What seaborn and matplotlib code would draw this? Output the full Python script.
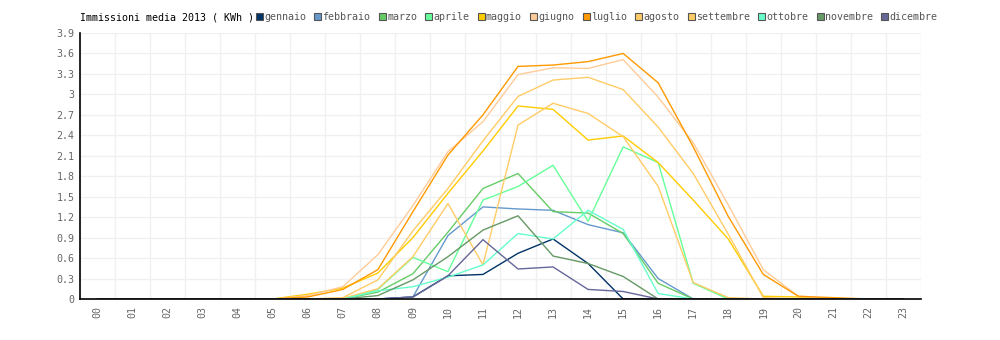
import matplotlib
matplotlib.use("Agg")
import matplotlib.pyplot as plt
from matplotlib.patches import Patch
import numpy as np
import pandas as pd
import seaborn as sns

# Average hourly energy fed in per month, 2013 (kWh)
hours = [f"{h:02d}" for h in range(24)]
months = ["gennaio", "febbraio", "marzo", "aprile", "maggio", "giugno",
          "luglio", "agosto", "settembre", "ottobre", "novembre", "dicembre"]
colors = ["#003366", "#6699cc", "#66cc66", "#66ff99", "#ffcc00", "#ffcc99",
          "#ff9900", "#ffcc66", "#ffcc66", "#66ffcc", "#669966", "#666699"]

gennaio   = [0, 0, 0, 0, 0, 0, 0, 0, 0, 0.03, 0.34, 0.36, 0.67, 0.88, 0.52, 0, 0, 0, 0, 0, 0, 0, 0, 0]
febbraio  = [0, 0, 0, 0, 0, 0, 0, 0, 0, 0.03, 0.93, 1.35, 1.32, 1.30, 1.09, 0.97, 0.30, 0, 0, 0, 0, 0, 0, 0]
marzo     = [0, 0, 0, 0, 0, 0, 0, 0, 0.10, 0.37, 0.98, 1.62, 1.84, 1.28, 1.26, 0.96, 0.23, 0, 0, 0, 0, 0, 0, 0]
aprile    = [0, 0, 0, 0, 0, 0, 0, 0, 0.14, 0.61, 0.40, 1.45, 1.65, 1.96, 1.14, 2.23, 2.00, 0.23, 0, 0, 0, 0, 0, 0]
maggio    = [0, 0, 0, 0, 0, 0, 0.07, 0.16, 0.38, 0.90, 1.55, 2.17, 2.83, 2.78, 2.33, 2.39, 2.00, 1.45, 0.88, 0.04, 0.03, 0, 0, 0]
giugno    = [0, 0, 0, 0, 0, 0, 0.05, 0.18, 0.65, 1.37, 2.16, 2.60, 3.29, 3.39, 3.38, 3.51, 2.96, 2.29, 1.38, 0.43, 0.04, 0, 0, 0]
luglio    = [0, 0, 0, 0, 0, 0, 0.03, 0.14, 0.43, 1.28, 2.11, 2.70, 3.41, 3.43, 3.48, 3.60, 3.17, 2.23, 1.21, 0.36, 0.04, 0.02, 0, 0]
agosto    = [0, 0, 0, 0, 0, 0, 0, 0.02, 0.28, 1.00, 1.62, 2.32, 2.97, 3.21, 3.25, 3.07, 2.52, 1.84, 0.95, 0.02, 0, 0, 0, 0]
settembre = [0, 0, 0, 0, 0, 0, 0, 0.01, 0.15, 0.62, 1.40, 0.50, 2.55, 2.87, 2.72, 2.38, 1.65, 0.24, 0.02, 0, 0, 0, 0, 0]
ottobre   = [0, 0, 0, 0, 0, 0, 0, 0, 0.12, 0.18, 0.32, 0.50, 0.96, 0.88, 1.30, 1.02, 0.08, 0, 0, 0, 0, 0, 0, 0]
novembre  = [0, 0, 0, 0, 0, 0, 0, 0, 0.05, 0.28, 0.62, 1.01, 1.22, 0.63, 0.52, 0.33, 0, 0, 0, 0, 0, 0, 0, 0]
dicembre  = [0, 0, 0, 0, 0, 0, 0, 0, 0, 0.03, 0.34, 0.87, 0.44, 0.47, 0.14, 0.11, 0, 0, 0, 0, 0, 0, 0, 0]

series = [gennaio, febbraio, marzo, aprile, maggio, giugno,
          luglio, agosto, settembre, ottobre, novembre, dicembre]

df = pd.DataFrame({
    "ora": np.tile(np.arange(24), len(months)),
    "valore": np.concatenate(series),
    "mese": np.repeat(months, 24),
})

sns.set_theme(style="white")
mono = ["DejaVu Sans Mono"]
plt.rcParams["font.family"] = mono

fig = plt.figure(figsize=(10, 3.4), dpi=100)
ax = fig.add_axes([0.08, 0.1206, 0.841, 0.7824])

sns.lineplot(data=df, x="ora", y="valore", hue="mese", hue_order=months,
             palette=dict(zip(months, colors)), linewidth=1.0, sort=False,
             legend=False, ax=ax, zorder=2)

ax.set_xlim(-0.5, 23.5)
ax.set_ylim(0, 3.9)
yt = np.round(np.arange(0, 3.91, 0.3), 1)
ax.set_yticks(yt)
ax.set_yticklabels([f"{v:g}" for v in yt])
ax.set_xticks(range(24))
ax.set_xticklabels(hours, rotation=90)
ax.set_xticks(np.arange(-0.5, 24, 1), minor=True)

ax.grid(False)
ax.grid(which="minor", axis="x", color="#f0f0f0", linewidth=1.0)
ax.grid(which="major", axis="y", color="#f0f0f0", linewidth=1.0)
ax.set_axisbelow(True)

ax.tick_params(axis="both", which="both", length=0, labelsize=7.2,
               labelcolor="#666666")
ax.tick_params(axis="x", pad=5)
ax.tick_params(axis="y", pad=4)
ax.set_xlabel("")
ax.set_ylabel("")

for side in ("top", "right"):
    ax.spines[side].set_visible(False)
for side in ("left", "bottom"):
    ax.spines[side].set_color("black")
    ax.spines[side].set_linewidth(1.2)
    ax.spines[side].set_zorder(3)

fig.text(0.08, 1 - 17 / 340, "Immissioni media 2013 ( KWh )", fontsize=7.2,
         color="black", ha="left", va="center", family=mono)

handles = [Patch(facecolor=c, edgecolor="#555555", linewidth=0.8, label=m)
           for m, c in zip(months, colors)]
leg = fig.legend(handles=handles, ncol=12, loc="center left",
                 bbox_to_anchor=(0.2555, 1 - 17 / 340), frameon=False,
                 fontsize=7.2, handlelength=0.7, handleheight=0.7,
                 handletextpad=0.15, columnspacing=0.8, borderpad=0,
                 borderaxespad=0)
for t in leg.get_texts():
    t.set_color("#555555")

fig.savefig("out.png", dpi=100)
